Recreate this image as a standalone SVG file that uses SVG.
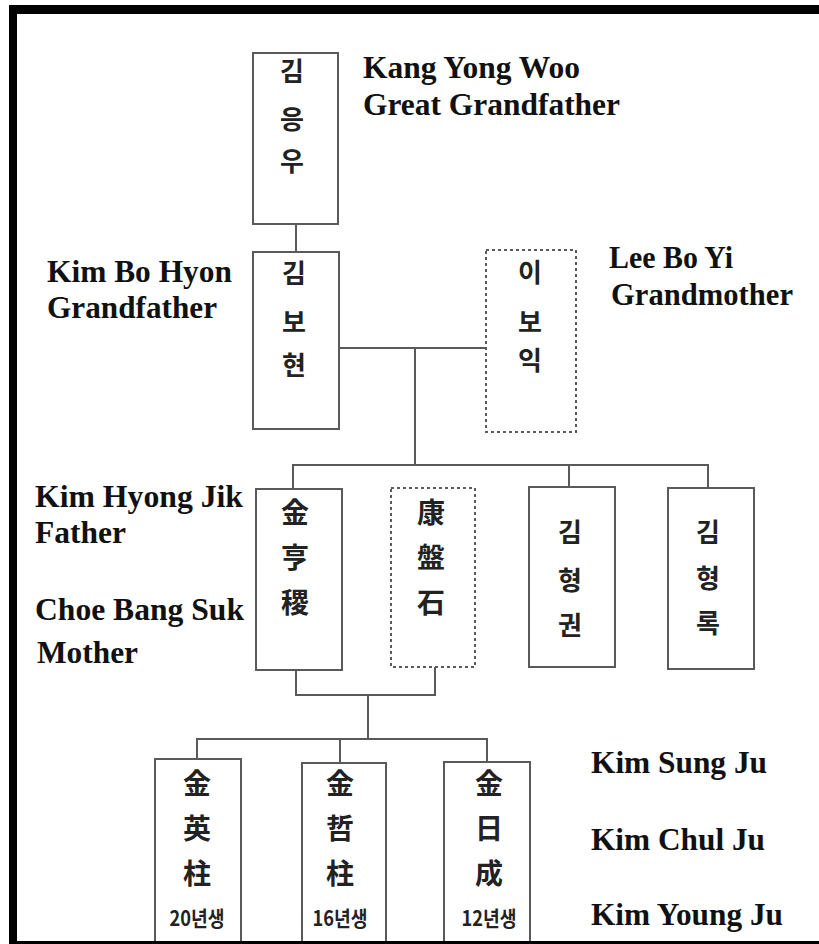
<svg xmlns="http://www.w3.org/2000/svg" width="819" height="944" viewBox="0 0 819 944">
<style>
.box{fill:#fff;stroke:#5a5a5a;stroke-width:2}
.dbox{fill:#fff;stroke:#5a5a5a;stroke-width:2;stroke-dasharray:3 3}
.ln{fill:none;stroke:#5a5a5a;stroke-width:2}
.en{font-family:"Liberation Serif","Times New Roman",serif;font-weight:bold;font-size:31px;fill:#111}
.ko{font-family:"Noto Sans CJK KR","Noto Sans",sans-serif;font-weight:bold;font-size:26px;fill:#222;text-anchor:middle}
.hz{font-family:"Noto Sans CJK KR","Noto Sans CJK SC",sans-serif;font-weight:bold;font-size:28px;fill:#222;text-anchor:middle}
.yr{font-family:"Noto Sans CJK KR","Noto Sans",sans-serif;font-weight:bold;font-size:21px;fill:#222;text-anchor:middle}
</style>
<rect x="0" y="0" width="819" height="944" fill="#fff"/>
<g id="frame" fill="#000">
<rect x="9" y="5" width="810" height="9"/>
<rect x="9" y="5" width="8" height="939"/>
</g>
<g id="connectors">
<path class="ln" d="M296 224V252"/>
<path class="ln" d="M339 348H487"/>
<path class="ln" d="M415 348V465"/>
<path class="ln" d="M293 489V465H708V488"/>
<path class="ln" d="M569 465V487"/>
<path class="ln" d="M296 670V695H435V667"/>
<path class="ln" d="M368 695V739"/>
<path class="ln" d="M197 759V739H487V762"/>
<path class="ln" d="M340 739V763"/>
</g>
<g id="great-grandfather">
<rect class="box" x="253" y="53" width="85" height="171"/>
<text class="ko" x="292" y="81">김</text>
<text class="ko" x="292" y="129">응</text>
<text class="ko" x="292" y="171">우</text>
<text class="en" x="363" y="78" textLength="217" lengthAdjust="spacingAndGlyphs">Kang Yong Woo</text>
<text class="en" x="363" y="115" textLength="257" lengthAdjust="spacingAndGlyphs">Great Grandfather</text>
</g>
<g id="grandfather">
<rect class="box" x="253" y="252" width="86" height="177"/>
<text class="ko" x="294" y="283">김</text>
<text class="ko" x="294" y="332">보</text>
<text class="ko" x="294" y="375">현</text>
<text class="en" x="47" y="282" textLength="185" lengthAdjust="spacingAndGlyphs">Kim Bo Hyon</text>
<text class="en" x="47" y="318" textLength="170" lengthAdjust="spacingAndGlyphs">Grandfather</text>
</g>
<g id="grandmother">
<rect class="dbox" x="486" y="250" width="90" height="182"/>
<text class="ko" x="530" y="282">이</text>
<text class="ko" x="530" y="332">보</text>
<text class="ko" x="530" y="370">익</text>
<text class="en" x="609" y="268" textLength="124" lengthAdjust="spacingAndGlyphs">Lee Bo Yi</text>
<text class="en" x="611" y="305" textLength="182" lengthAdjust="spacingAndGlyphs">Grandmother</text>
</g>
<g id="father">
<rect class="box" x="256" y="489" width="86" height="181"/>
<text class="hz" x="295" y="523">金</text>
<text class="hz" x="295" y="568">亨</text>
<text class="hz" x="295" y="613">稷</text>
<text class="en" x="35" y="507" textLength="208" lengthAdjust="spacingAndGlyphs">Kim Hyong Jik</text>
<text class="en" x="35" y="543" textLength="91" lengthAdjust="spacingAndGlyphs">Father</text>
</g>
<g id="mother">
<rect class="dbox" x="391" y="488" width="84" height="179"/>
<text class="hz" x="431" y="523">康</text>
<text class="hz" x="431" y="568">盤</text>
<text class="hz" x="431" y="613">石</text>
<text class="en" x="35" y="620" textLength="209" lengthAdjust="spacingAndGlyphs">Choe Bang Suk</text>
<text class="en" x="37" y="663" textLength="101" lengthAdjust="spacingAndGlyphs">Mother</text>
</g>
<g id="uncle1">
<rect class="box" x="529" y="487" width="86" height="180"/>
<text class="ko" x="570" y="542">김</text>
<text class="ko" x="570" y="590">형</text>
<text class="ko" x="570" y="635">권</text>
</g>
<g id="uncle2">
<rect class="box" x="668" y="488" width="86" height="181"/>
<text class="ko" x="708" y="542">김</text>
<text class="ko" x="708" y="588">형</text>
<text class="ko" x="708" y="633">록</text>
</g>
<g id="son1">
<rect class="box" x="155" y="759" width="86" height="190"/>
<text class="hz" x="197" y="794">金</text>
<text class="hz" x="197" y="839">英</text>
<text class="hz" x="197" y="884">柱</text>
<text class="yr" x="197" y="926" textLength="55" lengthAdjust="spacingAndGlyphs">20년생</text>
</g>
<g id="son2">
<rect class="box" x="302" y="763" width="84" height="190"/>
<text class="hz" x="340" y="794">金</text>
<text class="hz" x="340" y="839">哲</text>
<text class="hz" x="340" y="884">柱</text>
<text class="yr" x="340" y="926" textLength="55" lengthAdjust="spacingAndGlyphs">16년생</text>
</g>
<g id="son3">
<rect class="box" x="444" y="762" width="86" height="190"/>
<text class="hz" x="489" y="794">金</text>
<text class="hz" x="489" y="839">日</text>
<text class="hz" x="489" y="884">成</text>
<text class="yr" x="489" y="926" textLength="55" lengthAdjust="spacingAndGlyphs">12년생</text>
</g>
<g id="names">
<text class="en" x="591" y="773" textLength="176" lengthAdjust="spacingAndGlyphs">Kim Sung Ju</text>
<text class="en" x="591" y="850" textLength="174" lengthAdjust="spacingAndGlyphs">Kim Chul Ju</text>
<text class="en" x="591" y="925" textLength="192" lengthAdjust="spacingAndGlyphs">Kim Young Ju</text>
</g>
<rect id="frame-bottom" x="9" y="941" width="810" height="3" fill="#000"/>
</svg>
